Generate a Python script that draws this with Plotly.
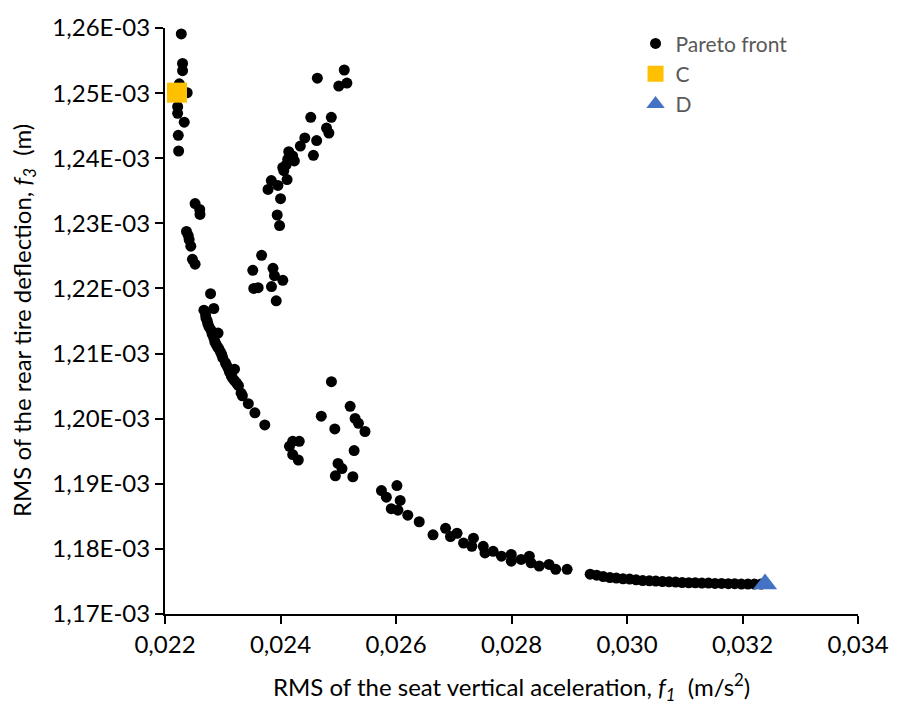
import plotly.graph_objects as go

# Pareto front: f1 = RMS seat vertical acceleration (m/s^2), f3 = RMS rear tire deflection (m)
pareto_f1 = [
    # left column
    0.022282, 0.022304, 0.022304, 0.022248, 0.022384, 0.022219, 0.022219, 0.022333, 0.02223, 0.022236,
    # cluster near 1.23E-03
    0.022521, 0.022601, 0.022606, 0.022372, 0.022418, 0.022447, 0.022475, 0.022521, 0.022401,
    # cluster near 1.22E-03
    0.023673, 0.02352, 0.02387, 0.023895, 0.02404, 0.023537, 0.023613, 0.023844, 0.023926,
    # upper branch
    0.024638, 0.025104, 0.025009, 0.02515, 0.024524, 0.02488, 0.024797, 0.024838, 0.024421, 0.024626,
    0.024343, 0.02457, 0.024143, 0.024211, 0.02424, 0.024126, 0.024097, 0.024057, 0.02404, 0.024114,
    0.023841, 0.023955, 0.023784, 0.024001, 0.023943, 0.023984,
    # main curve
    0.022789, 0.022674, 0.022845, 0.022703, 0.022731, 0.02276, 0.022919, 0.022816, 0.022862, 0.022902,
    0.02296, 0.022999, 0.023045, 0.023204, 0.023101, 0.023147, 0.023204, 0.023272, 0.023318, 0.023443,
    0.023557, 0.023728, 0.022709, 0.022743, 0.022794, 0.022845, 0.022879, 0.022931, 0.022982, 0.023067,
    0.023118, 0.023169, 0.023238, 0.02334,
    # clusters near 1.20E-03 / 1.19E-03
    0.024882, 0.025206, 0.024706, 0.025292, 0.02535, 0.025463, 0.02494, 0.025275, 0.024211, 0.024325,
    0.024155, 0.024211, 0.024308, 0.024996, 0.025065, 0.02495, 0.025253,
    # lower curve
    0.025748, 0.026016, 0.025833, 0.026072, 0.025918, 0.026033, 0.026204, 0.026402, 0.026641, 0.026858,
    0.026943, 0.027057, 0.02717, 0.027341, 0.027313, 0.027511, 0.027541, 0.027682, 0.027826, 0.027996,
    0.027996, 0.028167, 0.028309, 0.028338, 0.02848, 0.02865, 0.028765, 0.028963,
    # tail
    0.029362, 0.029475, 0.029589, 0.029704, 0.029816, 0.029931, 0.030045, 0.030158, 0.030272, 0.030387,
    0.030499, 0.030614, 0.030728, 0.030841, 0.030955, 0.03107, 0.031182, 0.031297, 0.031411, 0.031524,
    0.031638, 0.031753, 0.031865, 0.03198, 0.032094, 0.032207, 0.032321,
]
pareto_f3 = [
    1.25909e-3, 1.25456e-3, 1.25344e-3, 1.25143e-3, 1.25007e-3, 1.24791e-3, 1.24690e-3, 1.24553e-3, 1.24352e-3, 1.24111e-3,
    1.23303e-3, 1.23213e-3, 1.23137e-3, 1.22876e-3, 1.22750e-3, 1.22649e-3, 1.22448e-3, 1.22372e-3, 1.22816e-3,
    1.22508e-3, 1.22279e-3, 1.22309e-3, 1.22196e-3, 1.22124e-3, 1.22000e-3, 1.22011e-3, 1.22029e-3, 1.21810e-3,
    1.25229e-3, 1.25355e-3, 1.25108e-3, 1.25154e-3, 1.24629e-3, 1.24629e-3, 1.24463e-3, 1.24387e-3, 1.24312e-3, 1.24271e-3,
    1.24186e-3, 1.24044e-3, 1.24100e-3, 1.24035e-3, 1.23959e-3, 1.23984e-3, 1.23899e-3, 1.23808e-3, 1.23858e-3, 1.23672e-3,
    1.23657e-3, 1.23582e-3, 1.23521e-3, 1.23379e-3, 1.23128e-3, 1.22966e-3,
    1.21919e-3, 1.21667e-3, 1.21692e-3, 1.21591e-3, 1.21500e-3, 1.21414e-3, 1.21314e-3, 1.21299e-3, 1.21187e-3, 1.21112e-3,
    1.21027e-3, 1.20937e-3, 1.20861e-3, 1.20760e-3, 1.20760e-3, 1.20658e-3, 1.20583e-3, 1.20507e-3, 1.20392e-3, 1.20231e-3,
    1.20090e-3, 1.19903e-3, 1.21546e-3, 1.21455e-3, 1.21364e-3, 1.21243e-3, 1.21153e-3, 1.21077e-3, 1.20986e-3, 1.20820e-3,
    1.20714e-3, 1.20624e-3, 1.20548e-3, 1.20352e-3,
    1.20568e-3, 1.20190e-3, 1.20039e-3, 1.20004e-3, 1.19928e-3, 1.19803e-3, 1.19842e-3, 1.19510e-3, 1.19652e-3, 1.19652e-3,
    1.19576e-3, 1.19449e-3, 1.19365e-3, 1.19313e-3, 1.19233e-3, 1.19123e-3, 1.19108e-3,
    1.18896e-3, 1.18972e-3, 1.18795e-3, 1.18745e-3, 1.18618e-3, 1.18594e-3, 1.18518e-3, 1.18417e-3, 1.18216e-3, 1.18316e-3,
    1.18190e-3, 1.18240e-3, 1.18089e-3, 1.18164e-3, 1.18039e-3, 1.18039e-3, 1.17938e-3, 1.17963e-3, 1.17888e-3, 1.17914e-3,
    1.17812e-3, 1.17838e-3, 1.17888e-3, 1.17786e-3, 1.17737e-3, 1.17762e-3, 1.17687e-3, 1.17687e-3,
    1.17611e-3, 1.17596e-3, 1.17575e-3, 1.17560e-3, 1.17551e-3, 1.17540e-3, 1.17536e-3, 1.17525e-3, 1.17514e-3, 1.17510e-3,
    1.17505e-3, 1.17499e-3, 1.17495e-3, 1.17490e-3, 1.17484e-3, 1.17480e-3, 1.17480e-3, 1.17475e-3, 1.17475e-3, 1.17469e-3,
    1.17469e-3, 1.17465e-3, 1.17465e-3, 1.17460e-3, 1.17460e-3, 1.17460e-3, 1.17460e-3,
]

point_c_f1 = [0.022208]
point_c_f3 = [1.25007e-3]
point_d_f1 = [0.03239]
point_d_f3 = [1.1746e-3]

x_tickvals = [0.022, 0.024, 0.026, 0.028, 0.030, 0.032, 0.034]
x_ticktext = ["0,022", "0,024", "0,026", "0,028", "0,030", "0,032", "0,034"]
y_tickvals = [1.17e-3, 1.18e-3, 1.19e-3, 1.20e-3, 1.21e-3, 1.22e-3, 1.23e-3, 1.24e-3, 1.25e-3, 1.26e-3]
y_ticktext = ["1,17E-03", "1,18E-03", "1,19E-03", "1,20E-03", "1,21E-03",
              "1,22E-03", "1,23E-03", "1,24E-03", "1,25E-03", "1,26E-03"]

x_title = "RMS of the seat vertical aceleration, <i>f<sub>1</sub></i>  (m/s<sup>2</sup>)"
y_title = "RMS of the rear tire deflection, <i>f<sub>3</sub></i>  (m)"

FONT = "Lato"
TICK_SIZE = 24
TITLE_SIZE = 24
LEGEND_SIZE = 21

fig = go.Figure()
fig.add_trace(go.Scatter(x=pareto_f1, y=pareto_f3, mode="markers", name="Pareto front",
                         marker=dict(color="#000000", size=11, line=dict(width=0)),
                         cliponaxis=False))
fig.add_trace(go.Scatter(x=point_c_f1, y=point_c_f3, mode="markers", name="C",
                         marker=dict(color="#FFC000", size=20, symbol="square", line=dict(width=0)),
                         cliponaxis=False))
fig.add_trace(go.Scatter(x=point_d_f1, y=point_d_f3, mode="markers", name="D",
                         marker=dict(color="#4472C4", size=21, symbol="triangle-up", line=dict(width=0)),
                         cliponaxis=False))

axis_common = dict(showgrid=False, zeroline=False, showline=True, linecolor="#000000", linewidth=2,
                   ticks="outside", ticklen=8, tickwidth=2, tickcolor="#000000",
                   tickfont=dict(family=FONT, size=TICK_SIZE, color="#000000"))

fig.update_layout(
    width=901, height=706,
    margin=dict(l=165, r=33, t=18, b=92),
    paper_bgcolor="white", plot_bgcolor="white",
    font=dict(family=FONT, size=TICK_SIZE, color="#000000"),
    showlegend=True,
    legend=dict(x=0.679, y=1.008, xanchor="left", yanchor="top",
                bgcolor="rgba(0,0,0,0)", font=dict(family=FONT, size=LEGEND_SIZE, color="#595959"),
                itemwidth=30, tracegroupgap=0),
    xaxis=dict(range=[0.022, 0.034], tickvals=x_tickvals, ticktext=x_ticktext, **axis_common),
    yaxis=dict(range=[1.17e-3, 1.26e-3], tickvals=y_tickvals, ticktext=y_ticktext, **axis_common),
    annotations=[
        dict(text=x_title, xref="paper", yref="paper", x=0.5, y=0, xanchor="center", yanchor="middle",
             yshift=-73, showarrow=False, font=dict(family=FONT, size=TITLE_SIZE, color="#000000")),
        dict(text=y_title, xref="paper", yref="paper", x=0, y=0.5, xanchor="center", yanchor="middle",
             xshift=-142, textangle=-90, showarrow=False,
             font=dict(family=FONT, size=TITLE_SIZE, color="#000000")),
    ],
)

fig.write_html("out.html")
